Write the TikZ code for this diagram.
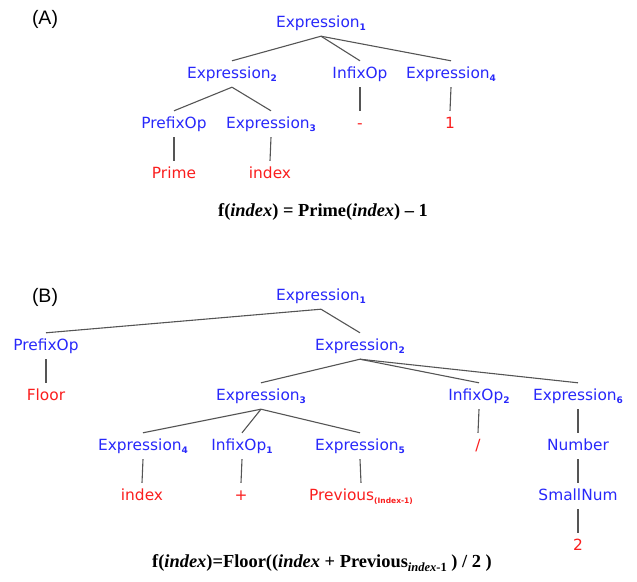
\documentclass[tikz,border=0pt]{standalone}
\usepackage{fontspec}
\setmainfont{Liberation Serif}
\newfontfamily\treefont{DejaVu Sans}
\newfontfamily\panelfont{Liberation Sans}
\definecolor{ntblue}{RGB}{40,40,250}
\definecolor{leafred}{RGB}{250,30,30}
\definecolor{edgegray}{RGB}{85,85,85}
% small bold index after a tree label
\newcommand{\ix}[1]{\raisebox{-3.5pt}{\fontsize{9}{9}\selectfont\bfseries #1}}
\newcommand{\smallix}[1]{\raisebox{-3.5pt}{\fontsize{7.5}{7.5}\selectfont\bfseries #1}}
\tikzset{
  nt/.style={text=ntblue, font=\treefont\fontsize{15.4}{15.4}\selectfont, inner sep=0pt,
             minimum height=26pt, text height=11pt, text depth=3pt},
  lf/.style={nt, text=leafred},
  edge/.style={draw=edgegray, line width=1.1pt},
  panel/.style={font=\panelfont\fontsize{19.5}{19.5}\selectfont, inner sep=0pt},
  formula/.style={font=\fontsize{18.4}{18.4}\selectfont\bfseries, inner sep=0pt}
}
\begin{document}
\begin{tikzpicture}[x=1pt,y=-1pt]
\useasboundingbox (0,0) rectangle (637,581);

% ---------- tree A ----------
\node[panel] (pa) at (45,19) {(A)};
\node[nt] (a1) at (321,23) {Expression\ix{1}};
\node[nt] (a2) at (232,74) {Expression\ix{2}};
\node[nt] (aop) at (360,74) {InfixOp};
\node[nt] (a4) at (451,74) {Expression\ix{4}};
\node[nt] (apre) at (174,124) {PrefixOp};
\node[nt] (a3) at (271,124) {Expression\ix{3}};
\node[lf] (aminus) at (360,124) {-};
\node[lf] (aone) at (450,124) {1};
\node[lf] (aprime) at (174,174) {Prime};
\node[lf] (aindex) at (270,174) {index};
\node[formula] (fa) at (323,212) {f(\textit{index}) = Prime(\textit{index}) – 1};

\draw[edge] (a1.south) -- (a2.north);
\draw[edge] (a1.south) -- (aop.north);
\draw[edge] (a1.south) -- (a4.north);
\draw[edge] (a2.south) -- (apre.north);
\draw[edge] (a2.south) -- (a3.north);
\draw[edge] (aop.south) -- (aminus.north);
\draw[edge] (a4.south) -- (aone.north);
\draw[edge] (apre.south) -- (aprime.north);
\draw[edge] (a3.south) -- (aindex.north);

% ---------- tree B ----------
\node[panel] (pb) at (45,297) {(B)};
\node[nt] (b1) at (321,296) {Expression\ix{1}};
\node[nt] (bpre) at (46,346) {PrefixOp};
\node[nt] (b2) at (360,346) {Expression\ix{2}};
\node[lf] (bfloor) at (46,396) {Floor};
\node[nt] (b3) at (261,396) {Expression\ix{3}};
\node[nt] (bop2) at (479,396) {InfixOp\ix{2}};
\node[nt] (b6) at (578,396) {Expression\ix{6}};
\node[nt] (b4) at (143,446) {Expression\ix{4}};
\node[nt] (bop1) at (242,446) {InfixOp\ix{1}};
\node[nt] (b5) at (360,446) {Expression\ix{5}};
\node[lf] (bslash) at (478,446) {/};
\node[nt] (bnum) at (578,446) {Number};
\node[lf] (bindex) at (142,496) {index};
\node[lf] (bplus) at (241,496) {+};
\node[lf] (bprev) at (361,496) {Previous\smallix{(Index-1)}};
\node[nt] (bsmall) at (578,496) {SmallNum};
\node[lf] (btwo) at (578,546) {2};
\node[formula] (fb) at (322,563) {f(\textit{index})=Floor((\textit{index} + Previous\raisebox{-3.5pt}{\fontsize{12.5}{12.5}\selectfont\textit{index}-1} ) / 2 )};

\draw[edge] (b1.south) -- (bpre.north);
\draw[edge] (b1.south) -- (b2.north);
\draw[edge] (bpre.south) -- (bfloor.north);
\draw[edge] (b2.south) -- (b3.north);
\draw[edge] (b2.south) -- (bop2.north);
\draw[edge] (b2.south) -- (b6.north);
\draw[edge] (b3.south) -- (b4.north);
\draw[edge] (b3.south) -- (bop1.north);
\draw[edge] (b3.south) -- (b5.north);
\draw[edge] (b4.south) -- (bindex.north);
\draw[edge] (bop1.south) -- (bplus.north);
\draw[edge] (b5.south) -- (bprev.north);
\draw[edge] (bop2.south) -- (bslash.north);
\draw[edge] (b6.south) -- (bnum.north);
\draw[edge] (bnum.south) -- (bsmall.north);
\draw[edge] (bsmall.south) -- (btwo.north);
\end{tikzpicture}
\end{document}
